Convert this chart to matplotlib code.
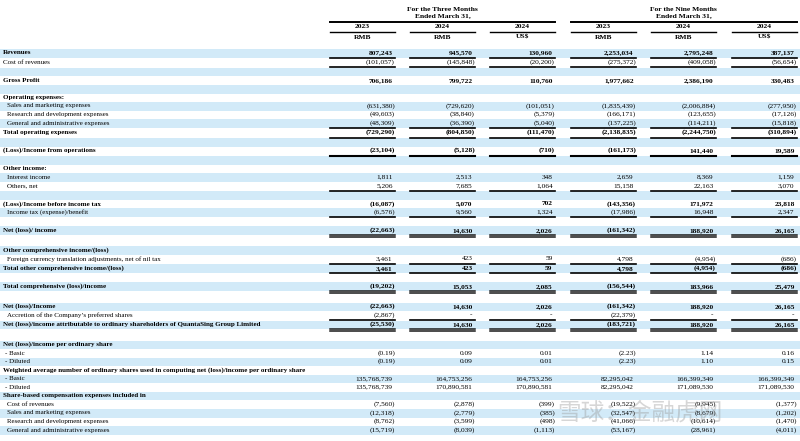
import matplotlib.pyplot as plt
from matplotlib.patches import Rectangle

# Column headings
groups = ['For the Three Months\nEnded March 31,', 'For the Nine Months\nEnded March 31,']
years = ['2023', '2024', '2024', '2023', '2024', '2024']
currencies = ['RMB', 'RMB', 'US$', 'RMB', 'RMB', 'US$']

# Row labels; style: 'b' bold, 'i' indented, 'd' dash item, '' plain
# rule under the row: '' none, 's' single, 'S' heavy single, 'd' double
labels = [
    'Revenues', 'Cost of revenues', '', 'Gross Profit', '',
    'Operating expenses:', 'Sales and marketing expenses', 'Research and development expenses',
    'General and administrative expenses', 'Total operating expenses', '',
    '(Loss)/Income from operations', '', 'Other income:', 'Interest income', 'Others, net', '',
    '(Loss)/Income before income tax', 'Income tax (expense)/benefit', '', 'Net (loss)/ income', '',
    'Other comprehensive income/(loss)', 'Foreign currency translation adjustments, net of nil tax',
    'Total other comprehensive income/(loss)', '', 'Total comprehensive (loss)/income', '',
    'Net (loss)/Income', 'Accretion of the Company\u2019s preferred shares',
    'Net (loss)/income attributable to ordinary shareholders of QuantaSing Group Limited', '',
    'Net (loss)/income per ordinary share', '- Basic', '- Diluted',
    'Weighted average number of ordinary shares used in computing net (loss)/income per ordinary share',
    '- Basic', '- Diluted', 'Share-based compensation expenses included in',
    'Cost of revenues', 'Sales and marketing expenses', 'Research and development expenses',
    'General and administrative expenses',
]
styles = ['b', '', '', 'b', '', 'b', 'i', 'i', 'i', 'b', '', 'b', '', 'b', 'i', 'i', '',
          'b', 'i', '', 'b', '', 'b', 'i', 'b', '', 'b', '', 'b', 'i', 'b', '',
          'b', 'd', 'd', 'b', 'd', 'd', 'b', 'i', 'i', 'i', 'i']
rules = ['s', 's', '', '', '', '', '', '', 's', 's', '', 'S', '', '', '', 's', '',
         '', 's', '', 'd', '', '', 's', 's', '', 'd', '', '', 's', 'd', '',
         '', '', '', '', '', '', '', '', '', '', '']

q3_2023_rmb = ['807,243', '(101,057)', '', '706,186', '', '', '(631,380)', '(49,603)', '(48,309)',
               '(729,290)', '', '(23,104)', '', '', '1,811', '5,206', '', '(16,087)', '(6,576)', '',
               '(22,663)', '', '', '3,461', '3,461', '', '(19,202)', '', '(22,663)', '(2,867)',
               '(25,530)', '', '', '(0.19)', '(0.19)', '', '135,768,739', '135,768,739', '',
               '(7,560)', '(12,318)', '(8,762)', '(15,719)']
q3_2024_rmb = ['945,570', '(145,848)', '', '799,722', '', '', '(729,620)', '(38,840)', '(36,390)',
               '(804,850)', '', '(5,128)', '', '', '2,513', '7,685', '', '5,070', '9,560', '',
               '14,630', '', '', '423', '423', '', '15,053', '', '14,630', '-',
               '14,630', '', '', '0.09', '0.09', '', '164,753,256', '170,890,581', '',
               '(2,878)', '(2,779)', '(3,599)', '(8,039)']
q3_2024_usd = ['130,960', '(20,200)', '', '110,760', '', '', '(101,051)', '(5,379)', '(5,040)',
               '(111,470)', '', '(710)', '', '', '348', '1,064', '', '702', '1,324', '',
               '2,026', '', '', '59', '59', '', '2,085', '', '2,026', '-',
               '2,026', '', '', '0.01', '0.01', '', '164,753,256', '170,890,581', '',
               '(399)', '(385)', '(498)', '(1,113)']
m9_2023_rmb = ['2,253,034', '(275,372)', '', '1,977,662', '', '', '(1,835,439)', '(166,171)', '(137,225)',
               '(2,138,835)', '', '(161,173)', '', '', '2,659', '15,158', '', '(143,356)', '(17,986)', '',
               '(161,342)', '', '', '4,798', '4,798', '', '(156,544)', '', '(161,342)', '(22,379)',
               '(183,721)', '', '', '(2.23)', '(2.23)', '', '82,295,042', '82,295,042', '',
               '(19,522)', '(32,547)', '(41,066)', '(53,167)']
m9_2024_rmb = ['2,795,248', '(409,058)', '', '2,386,190', '', '', '(2,006,884)', '(123,655)', '(114,211)',
               '(2,244,750)', '', '141,440', '', '', '8,369', '22,163', '', '171,972', '16,948', '',
               '188,920', '', '', '(4,954)', '(4,954)', '', '183,966', '', '188,920', '-',
               '188,920', '', '', '1.14', '1.10', '', '166,399,349', '171,089,530', '',
               '(9,945)', '(8,679)', '(10,614)', '(28,961)']
m9_2024_usd = ['387,137', '(56,654)', '', '330,483', '', '', '(277,950)', '(17,126)', '(15,818)',
               '(310,894)', '', '19,589', '', '', '1,159', '3,070', '', '23,818', '2,347', '',
               '26,165', '', '', '(686)', '(686)', '', '25,479', '', '26,165', '-',
               '26,165', '', '', '0.16', '0.15', '', '166,399,349', '171,089,530', '',
               '(1,377)', '(1,202)', '(1,470)', '(4,011)']
columns = [q3_2023_rmb, q3_2024_rmb, q3_2024_usd, m9_2023_rmb, m9_2024_rmb, m9_2024_usd]

# Layout in pixels
W, H = 800, 441
col_right = [395, 475, 555, 636, 716, 797]
col_w = 65
row_h = 8.55
stripe = '#d2eaf8'
fs = 5.0      # labels
fs_num = 5.3  # figures
serif = 'Liberation Serif'

fig = plt.figure(figsize=(W / 100, H / 100), dpi=100)
ax = fig.add_axes([0, 0, 1, 1])
ax.set_xlim(0, W)
ax.set_ylim(H, 0)
ax.axis('off')

# headers
for g, txt in enumerate(groups):
    c = col_right[3 * g + 1] - col_w / 2
    ax.text(c, 12.2, txt, ha='center', va='center', fontsize=5.4, fontweight='bold',
            family=serif, linespacing=1.2)
    ax.plot([col_right[3 * g] - col_w, col_right[3 * g + 2]], [21.7, 21.7], color='black', lw=1.4)
for j in range(6):
    c = col_right[j] - col_w / 2
    ax.text(c, 27, years[j], ha='center', va='center', fontsize=5.4, fontweight='bold', family=serif)
    ax.plot([col_right[j] - col_w, col_right[j]], [32, 32], color='black', lw=1.0)
    ax.text(c, 37.3, currencies[j], ha='center', va='center', fontsize=5.4, fontweight='bold', family=serif)

# body rows
y = 53.3
for i, lab in enumerate(labels):
    if i % 2 == 0:
        ax.add_patch(Rectangle((0, y - row_h / 2), W, row_h, color=stripe, lw=0))
    st = styles[i]
    xl = 7 if st == 'i' else (5 if st == 'd' else 3)
    wt = 'bold' if st == 'b' else 'normal'
    ty = y - 0.4
    ax.text(xl, ty, lab, ha='left', va='center', fontsize=fs, fontweight=wt, family=serif)
    for j, col in enumerate(columns):
        v = col[i]
        if not v:
            continue
        xr = col_right[j] if v.endswith(')') else col_right[j] - 2.4
        ax.text(xr, ty, v, ha='right', va='center', fontsize=fs_num, fontweight=wt, family=serif)
    r = rules[i]
    if r:
        yr = y + row_h / 2 + 0.4
        for j in range(6):
            xs = [col_right[j] - col_w, col_right[j]]
            if r == 'd':
                ax.plot(xs, [yr, yr], color='#1a1a1a', lw=1.1)
                ax.plot(xs, [yr + 1.9, yr + 1.9], color='#1a1a1a', lw=1.1)
            else:
                ax.plot(xs, [yr, yr], color='black', lw=1.5 if r == 'S' else 1.2)
    y += row_h + (0.9 if r in ('s', 'S') else 3.0 if r == 'd' else 0)

# watermark
ax.text(640, 413, '\u96ea\u7403\uff1a\u91d1\u878d\u864e\u7f51', ha='center', va='center',
        fontsize=17, color='#9a9a9a', alpha=0.4, family=['Noto Sans CJK SC', 'DejaVu Sans'])

fig.savefig('out.png', dpi=100)
